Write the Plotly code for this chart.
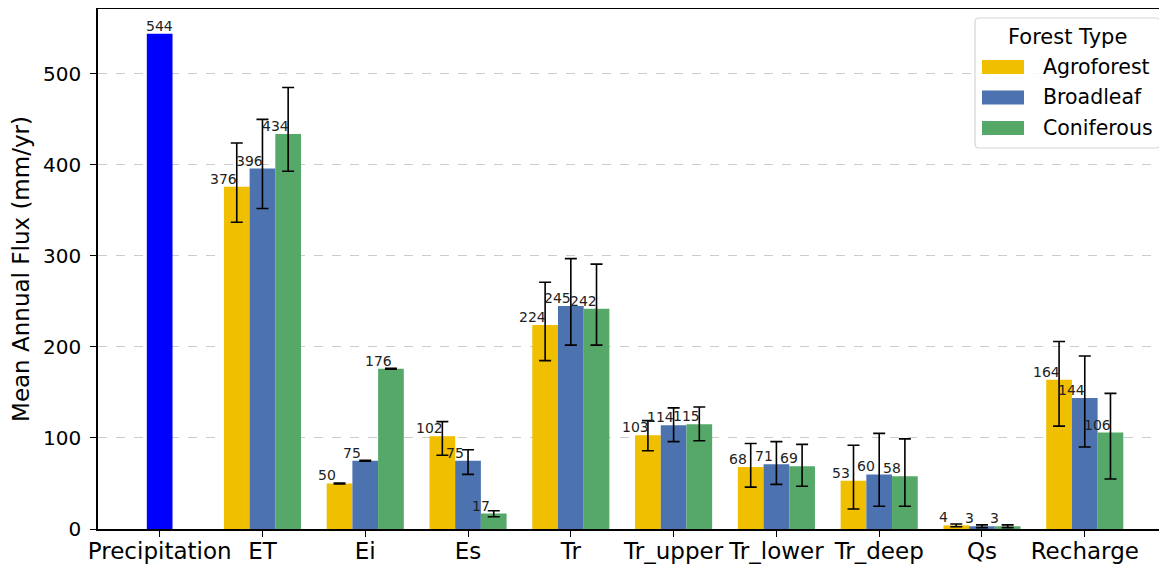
import plotly.graph_objects as go

categories = ["Precipitation", "ET", "Ei", "Es", "Tr", "Tr_upper", "Tr_lower", "Tr_deep", "Qs", "Recharge"]
precip_value = 544
groups = ["ET", "Ei", "Es", "Tr", "Tr_upper", "Tr_lower", "Tr_deep", "Qs", "Recharge"]
agro = [376, 50, 102, 224, 103, 68, 53, 4, 164]
agro_err_up = [48, 0.5, 16, 47, 16, 26, 39, 1.5, 42]
agro_err_down = [39, 0.5, 21, 39, 17, 22, 31, 1.5, 51]
broad = [396, 75, 75, 245, 114, 71, 60, 3, 144]
broad_err_up = [54, 0.5, 12, 52, 19, 25, 45, 1.5, 46]
broad_err_down = [44, 0.5, 15, 43, 18, 22, 35, 1.5, 54]
conif = [434, 176, 17, 242, 115, 69, 58, 3, 106]
conif_err_up = [51, 0.5, 3, 49, 19, 24, 41, 1.5, 43]
conif_err_down = [41, 0.5, 3.5, 40, 18, 22, 33, 1.5, 51]
legend_title = "Forest Type"

series = [
    ("Agroforest", agro, agro_err_up, agro_err_down, "#EFBF00", -0.25),
    ("Broadleaf", broad, broad_err_up, broad_err_down, "#4C72B0", 0.0),
    ("Coniferous", conif, conif_err_up, conif_err_down, "#55A868", 0.25),
]
bar_w = 0.25
font = "DejaVu Sans"

# plot-area geometry in figure pixels (used to place the hand-drawn legend)
W, H = 1159, 558
ML, MR, MT, MB = 90, 0, 1, 37
PW, PH = W - ML - MR, H - MT - MB


def px(xf):
    return (xf - ML) / PW


def py(yf):
    return (H - MB - yf) / PH


fig = go.Figure()
fig.add_trace(go.Bar(x=[0], y=[precip_value], width=bar_w, marker=dict(color="#0000FF", line=dict(width=0)),
                     showlegend=False, name="Precipitation"))

annotations = [dict(x=0, y=precip_value, text=str(precip_value), showarrow=False, xanchor="center",
                    yanchor="bottom", font=dict(size=14, color="#222", family=font), yshift=-2)]

for name, vals, eup, edn, color, off in series:
    xs = [i + 1 + off for i in range(len(groups))]
    fig.add_trace(go.Bar(
        x=xs, y=vals, width=bar_w, name=name, showlegend=False,
        marker=dict(color=color, line=dict(width=0)),
        error_y=dict(type="data", symmetric=False, array=eup, arrayminus=edn, visible=True,
                     color="black", thickness=1.6, width=6),
    ))
    for xv, v in zip(xs, vals):
        annotations.append(dict(x=xv - bar_w / 2, y=v, text=str(v), showarrow=False, xanchor="center",
                                yanchor="bottom", font=dict(size=14, color="#222", family=font), yshift=-2))

# custom legend (matplotlib-like: rounded frame, wide swatches)
shapes = []
bx0, bx1, by0, by1 = px(967), px(1152), py(140), py(10)
rx, ry = 4 / PW, 4 / PH
path = (f"M {bx0+rx},{by1} L {bx1-rx},{by1} Q {bx1},{by1} {bx1},{by1-ry} "
        f"L {bx1},{by0+ry} Q {bx1},{by0} {bx1-rx},{by0} L {bx0+rx},{by0} "
        f"Q {bx0},{by0} {bx0},{by0+ry} L {bx0},{by1-ry} Q {bx0},{by1} {bx0+rx},{by1} Z")
shapes.append(dict(type="path", path=path, xref="paper", yref="paper", fillcolor="rgba(255,255,255,0.85)",
                   line=dict(color="#d6d6d6", width=1.2), layer="above"))
annotations.append(dict(x=px(1059), y=py(29), xref="paper", yref="paper", text=legend_title, showarrow=False,
                        xanchor="center", yanchor="middle", font=dict(size=21, family=font, color="black")))
for k, (name, _, _, _, color, _) in enumerate(series):
    cy = 59 + 30.5 * k
    shapes.append(dict(type="rect", xref="paper", yref="paper", x0=px(974), x1=px(1016),
                       y0=py(cy + 7), y1=py(cy - 7), fillcolor=color, line=dict(width=0), layer="above"))
    annotations.append(dict(x=px(1033), y=py(cy), xref="paper", yref="paper", text=name, showarrow=False,
                            xanchor="left", yanchor="middle", font=dict(size=20.5, family=font, color="black")))

fig.update_layout(
    width=W, height=H,
    margin=dict(l=ML, r=MR, t=MT, b=MB, autoexpand=False),
    plot_bgcolor="white", paper_bgcolor="white",
    barmode="overlay",
    font=dict(family=font, color="black"),
    annotations=annotations,
    shapes=shapes,
    showlegend=False,
    xaxis=dict(
        range=[-0.6, 9.8], tickmode="array", tickvals=list(range(len(categories))), ticktext=categories,
        showgrid=False, zeroline=False, showline=True, linecolor="black", linewidth=1.5, mirror=True,
        ticks="outside", ticklen=6, tickwidth=1.3, tickcolor="black", ticklabelstandoff=-5,
        tickfont=dict(size=23, family=font, color="black"),
    ),
    yaxis=dict(
        range=[0, 571.2], tickvals=[0, 100, 200, 300, 400, 500],
        showgrid=True, gridcolor="#cccccc", griddash="dash", gridwidth=1,
        zeroline=False, showline=True, linecolor="black", linewidth=1.5,
        ticks="outside", ticklen=6, tickwidth=1.3, tickcolor="black", ticklabelstandoff=5,
        tickfont=dict(size=20, family=font, color="black"),
        title=dict(text="Mean Annual Flux (mm/yr)", font=dict(size=23, family=font), standoff=8),
        layer="above traces",
    ),
)

fig.write_html("out.html")
